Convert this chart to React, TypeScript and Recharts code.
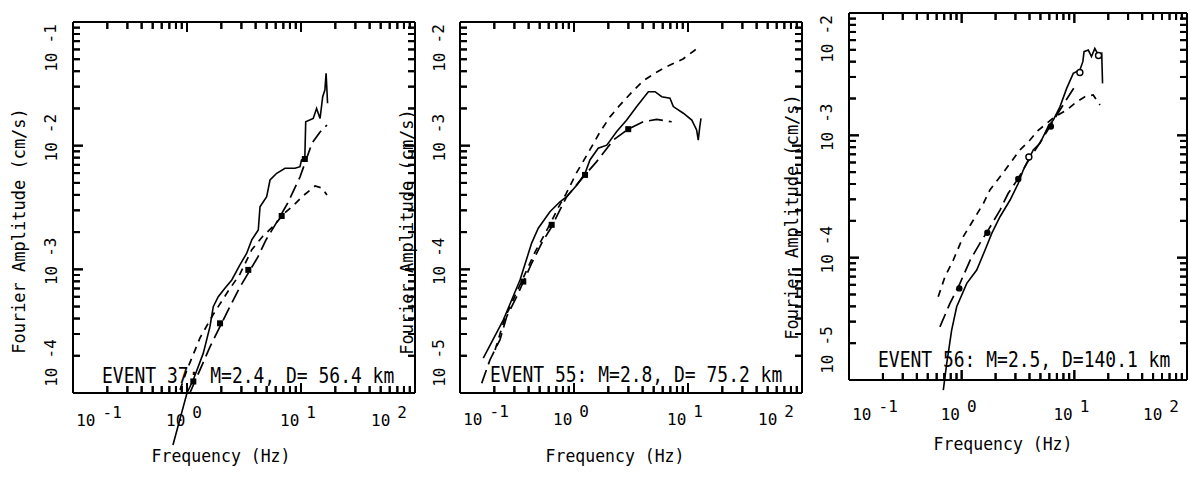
import React from 'react';
import { ComposedChart, Line, XAxis, YAxis, Scatter } from 'recharts';

// ---------- data (frequency Hz, Fourier amplitude cm/s) ----------
const xTicks = [0.1,0.2,0.3,0.4,0.5,0.6,0.7,0.8,0.9,1,2,3,4,5,6,7,8,9,10,20,30,40,50,60,70,80,90,100];
const yTicksA = [1e-4,2e-4,3e-4,4e-4,5e-4,6e-4,7e-4,8e-4,9e-4,1e-3,2e-3,3e-3,4e-3,5e-3,6e-3,7e-3,8e-3,9e-3,1e-2,2e-2,3e-2,4e-2,5e-2,6e-2,7e-2,8e-2,9e-2,1e-1];
const yTicksB = [1e-5,2e-5,3e-5,4e-5,5e-5,6e-5,7e-5,8e-5,9e-5,1e-4,2e-4,3e-4,4e-4,5e-4,6e-4,7e-4,8e-4,9e-4,1e-3,2e-3,3e-3,4e-3,5e-3,6e-3,7e-3,8e-3,9e-3,1e-2];

const ev37Solid = [
  {f:0.753,a:3.8e-5},{f:1.0,a:1.0e-4},{f:1.136,a:1.28e-4},{f:1.39,a:2.1e-4},{f:1.59,a:3.44e-4},
  {f:1.70,a:4.99e-4},{f:1.88,a:6.01e-4},{f:2.15,a:7.03e-4},{f:2.47,a:8.21e-4},{f:2.92,a:1.09e-3},
  {f:3.34,a:1.35e-3},{f:3.70,a:1.73e-3},{f:4.22,a:2.08e-3},{f:4.37,a:3.21e-3},{f:5.0,a:3.87e-3},
  {f:5.35,a:5.28e-3},{f:6.12,a:5.98e-3},{f:7.24,a:6.56e-3},{f:8.86,a:6.56e-3},{f:9.8,a:6.76e-3},
  {f:10.1,a:7.66e-3},{f:10.8,a:7.91e-3},{f:11.0,a:1.56e-2},{f:12.8,a:1.66e-2},{f:13.7,a:2.0e-2},
  {f:14.7,a:1.66e-2},{f:15.5,a:2.49e-2},{f:16.2,a:2.82e-2},{f:16.6,a:3.85e-2},{f:17.1,a:2.2e-2},
];
const ev37LongDash = [
  {f:1.06,a:1.0e-4},{f:1.30,a:1.54e-4},{f:1.59,a:2.36e-4},{f:2.30,a:4.7e-4},{f:2.92,a:7.21e-4},
  {f:4.19,a:1.26e-3},{f:4.93,a:1.73e-3},{f:6.15,a:2.42e-3},{f:7.65,a:3.44e-3},{f:9.8,a:5.58e-3},
  {f:12.5,a:1.05e-2},{f:14.7,a:1.29e-2},{f:16.9,a:1.47e-2},
];
const ev37ShortDash = [
  {f:0.869,a:1.06e-4},{f:1.0,a:1.54e-4},{f:1.30,a:2.79e-4},{f:1.69,a:4.28e-4},{f:2.24,a:6.44e-4},
  {f:2.92,a:9.18e-4},{f:3.70,a:1.44e-3},{f:4.64,a:1.86e-3},{f:5.89,a:2.29e-3},{f:7.05,a:2.81e-3},
  {f:8.5,a:3.26e-3},{f:10.4,a:3.92e-3},{f:13.3,a:4.72e-3},{f:15.3,a:4.55e-3},{f:16.9,a:3.99e-3},
];
const ev37Marks = [
  {f:1.136,a:1.24e-4},{f:1.95,a:3.66e-4},{f:3.45,a:9.9e-4},{f:6.77,a:2.7e-3},{f:10.8,a:7.8e-3},
];

const ev55Solid = [
  {f:0.160,a:1.91e-5},{f:0.240,a:3.9e-5},{f:0.336,a:8.2e-5},{f:0.425,a:1.63e-4},{f:0.486,a:2.15e-4},
  {f:0.615,a:2.92e-4},{f:0.753,a:3.52e-4},{f:0.863,a:3.87e-4},{f:1.06,a:4.81e-4},{f:1.25,a:5.98e-4},
  {f:1.38,a:7.66e-4},{f:1.63,a:9.53e-4},{f:1.94,a:1.01e-3},{f:2.37,a:1.3e-3},{f:2.90,a:1.61e-3},
  {f:3.55,a:2.07e-3},{f:4.49,a:2.73e-3},{f:5.14,a:2.73e-3},{f:5.88,a:2.49e-3},{f:6.95,a:2.42e-3},
  {f:7.43,a:2.07e-3},{f:9.10,a:1.83e-3},{f:10.8,a:1.61e-3},{f:11.9,a:1.34e-3},{f:12.3,a:1.11e-3},
  {f:12.7,a:1.43e-3},{f:13.0,a:1.66e-3},
];
const ev55LongDash = [
  {f:0.155,a:1.2e-5},{f:0.183,a:1.85e-5},{f:0.224,a:2.69e-5},{f:0.257,a:4.15e-5},{f:0.314,a:6.01e-5},
  {f:0.372,a:8.47e-5},{f:0.425,a:1.12e-4},{f:0.521,a:1.63e-4},{f:0.637,a:2.21e-4},{f:0.753,a:3.02e-4},
  {f:0.863,a:3.87e-4},{f:1.25,a:5.8e-4},{f:1.58,a:7.43e-4},{f:2.21,a:1.11e-3},{f:2.99,a:1.36e-3},
  {f:4.05,a:1.56e-3},{f:5.31,a:1.63e-3},{f:7.19,a:1.56e-3},
];
const ev55ShortDash = [
  {f:0.203,a:2.23e-5},{f:0.248,a:4.05e-5},{f:0.336,a:7.48e-5},{f:0.455,a:1.38e-4},{f:0.592,a:2.16e-4},
  {f:0.724,a:3.13e-4},{f:0.851,a:4.07e-4},{f:1.06,a:6.12e-4},{f:1.30,a:8.41e-4},{f:1.69,a:1.29e-3},
  {f:2.07,a:1.71e-3},{f:2.53,a:2.13e-3},{f:3.23,a:2.72e-3},{f:4.03,a:3.33e-3},{f:5.14,a:3.87e-3},
  {f:6.68,a:4.41e-3},{f:9.04,a:5.02e-3},{f:12.2,a:6.17e-3},
];
const ev55Marks = [
  {f:0.359,a:7.96e-5},{f:0.637,a:2.29e-4},{f:1.25,a:5.8e-4},{f:2.99,a:1.36e-3},
];

const ev56Solid = [
  {f:0.687,a:8.26e-6},{f:0.737,a:1.37e-5},{f:0.815,a:2.56e-5},{f:0.903,a:3.97e-5},{f:1.11,a:6.17e-5},
  {f:1.36,a:7.92e-5},{f:1.61,a:1.15e-4},{f:1.85,a:1.58e-4},{f:2.19,a:2.16e-4},{f:2.69,a:2.96e-4},
  {f:3.18,a:4.05e-4},{f:3.52,a:5.2e-4},{f:3.90,a:6.28e-4},{f:4.32,a:7.59e-4},{f:4.95,a:8.61e-4},
  {f:5.86,a:1.18e-3},{f:6.50,a:1.33e-3},{f:7.45,a:1.71e-3},{f:8.55,a:2.42e-3},{f:9.78,a:3.21e-3},
  {f:11.2,a:3.42e-3},{f:11.9,a:4.0e-3},{f:12.2,a:4.83e-3},{f:13.3,a:4.98e-3},{f:14.2,a:4.4e-3},
  {f:15.2,a:5.14e-3},{f:16.3,a:4.54e-3},{f:17.5,a:4.68e-3},{f:17.8,a:2.66e-3},
];
const ev56LongDash = [
  {f:0.641,a:2.72e-5},{f:0.787,a:4.23e-5},{f:0.966,a:6.17e-5},{f:1.19,a:9.55e-5},{f:1.45,a:1.31e-4},
  {f:1.72,a:1.68e-4},{f:2.19,a:2.45e-4},{f:2.59,a:3.36e-4},{f:3.18,a:4.45e-4},{f:3.78,a:5.9e-4},
  {f:5.13,a:9.16e-4},{f:6.07,a:1.18e-3},{f:7.45,a:1.61e-3},{f:8.83,a:2.07e-3},{f:10.1,a:2.5e-3},
];
const ev56ShortDash = [
  {f:0.619,a:4.79e-5},{f:0.711,a:6.98e-5},{f:0.842,a:9.55e-5},{f:1.03,a:1.48e-4},{f:1.27,a:2.03e-4},
  {f:1.56,a:2.78e-4},{f:1.78,a:3.57e-4},{f:2.19,a:4.58e-4},{f:2.69,a:5.9e-4},{f:3.29,a:7.59e-4},
  {f:4.04,a:9.16e-4},{f:4.78,a:1.1e-3},{f:5.68,a:1.25e-3},{f:6.73,a:1.42e-3},{f:8.55,a:1.61e-3},
  {f:10.5,a:1.88e-3},{f:12.4,a:2.07e-3},{f:14.7,a:2.14e-3},{f:16.9,a:1.77e-3},
];
const ev56Marks = [
  {f:0.953,a:5.61e-5},{f:1.69,a:1.6e-4},{f:3.18,a:4.4e-4},{f:6.19,a:1.18e-3},
];
const ev56OpenMarks = [
  {f:3.95,a:6.65e-4},{f:11.2,a:3.26e-3},{f:16.4,a:4.49e-3},
];

const eventLabels = [
  'EVENT 37: M=2.4, D= 56.4 km',
  'EVENT 55: M=2.8, D= 75.2 km',
  'EVENT 56: M=2.5, D=140.1 km',
];
const yTitle = 'Fourier Amplitude (cm/s)';
const xTitle = 'Frequency (Hz)';
const X_DOMAIN: [number, number] = [0.1, 100];

// ---------- layout ----------
const FONT = "'DejaVu Sans Mono', 'Liberation Mono', monospace";
const YW = 70;
const XH = 60;
const MT = 10;
const MR = 3;

const panels = [
  { left: 73, top: 22, pw: 342, ph: 371, yDomain: [1e-4, 1e-1] as [number, number], yTicks: yTicksA,
    xLabelDy: 33, yLabelDx: 16,
    solid: ev37Solid, longDash: ev37LongDash, shortDash: ev37ShortDash, marks: ev37Marks, open: [] as any[],
    event: eventLabels[0], eventX: 102, eventY: 383, titleX: 25, titleY: 231, freqX: 221, freqY: 462 },
  { left: 460, top: 22, pw: 342, ph: 371, yDomain: [1e-5, 1e-2] as [number, number], yTicks: yTicksB,
    xLabelDy: 32, yLabelDx: 15,
    solid: ev55Solid, longDash: ev55LongDash, shortDash: ev55ShortDash, marks: ev55Marks, open: [] as any[],
    event: eventLabels[1], eventX: 490, eventY: 382, titleX: 413, titleY: 232, freqX: 615, freqY: 462 },
  { left: 849, top: 13, pw: 338, ph: 367, yDomain: [1e-5, 1e-2] as [number, number], yTicks: yTicksB,
    xLabelDy: 40, yLabelDx: 16,
    solid: ev56Solid, longDash: ev56LongDash, shortDash: ev56ShortDash, marks: ev56Marks, open: ev56OpenMarks,
    event: eventLabels[2], eventX: 878, eventY: 367, titleX: 798, titleY: 217, freqX: 1003, freqY: 450 },
];

const isDecade = (v: number) => {
  const l = Math.log10(v);
  return Math.abs(l - Math.round(l)) < 1e-6;
};
const near = (a: number, b: number) => Math.abs(Math.log10(a) - Math.log10(b)) < 1e-6;

function makeXTick(p: any) {
  return (props: any) => {
    const x = Number(props.x);
    const y = Number(props.y);
    const v = props.payload.value;
    if (!isDecade(v)) return <g />;
    const e = Math.round(Math.log10(v));
    const shift = near(v, X_DOMAIN[0]) ? 26 : near(v, X_DOMAIN[1]) ? -26 : -3;
    return (
      <text x={x + shift} y={y + p.xLabelDy} textAnchor="middle" fontFamily={FONT} fontSize={16} fill="#000" stroke="none">
        10<tspan dx={7} dy={-8}>{String(e)}</tspan>
      </text>
    );
  };
}

function makeYTick(p: any) {
  return (props: any) => {
    const x = Number(props.x);
    const y = Number(props.y);
    const v = props.payload.value;
    if (!isDecade(v)) return <g />;
    const e = Math.round(Math.log10(v));
    const shift = near(v, p.yDomain[1]) ? 26 : near(v, p.yDomain[0]) ? -30 : -8;
    return (
      <text transform={`translate(${x - p.yLabelDx},${y + shift}) rotate(-90)`} textAnchor="middle"
        fontFamily={FONT} fontSize={16} fill="#000" stroke="none">
        10<tspan dx={9} dy={-1}>{String(e)}</tspan>
      </text>
    );
  };
}

// frame tick marks, placed through the chart scales on the axis edges
const tickMark = (dx: number, dy: number) => (props: any) => {
  const { cx, cy, payload } = props;
  if (cx == null || cy == null) return <g />;
  const len = payload && payload.major ? 10 : 7;
  return (
    <g>
      <line x1={cx} y1={cy} x2={cx + dx * len} y2={cy + dy * len} stroke="#000" strokeWidth={2} />
    </g>
  );
};
const bottomTickShape = tickMark(0, -1);
const topTickShape = tickMark(0, 1);
const leftTickShape = tickMark(1, 0);
const rightTickShape = tickMark(-1, 0);

const squareShape = (props: any) => {
  const { cx, cy } = props;
  if (cx == null || cy == null) return <g />;
  return <rect x={cx - 3} y={cy - 3} width={6} height={6} fill="#000" />;
};
const dotShape = (props: any) => {
  const { cx, cy } = props;
  if (cx == null || cy == null) return <g />;
  return <circle cx={cx} cy={cy} r={3.2} fill="#000" />;
};
const openShape = (props: any) => {
  const { cx, cy } = props;
  if (cx == null || cy == null) return <g />;
  return <circle cx={cx} cy={cy} r={3} fill="#fff" stroke="#000" strokeWidth={1.4} />;
};

const frameStyle = { stroke: '#000', strokeWidth: 2 };

// Frame tick marks for the overlay, derived from the same tick lists and log-axis geometry
function frameTicks(p: any) {
  const lx0 = Math.log10(X_DOMAIN[0]);
  const lx1 = Math.log10(X_DOMAIN[1]);
  const ly0 = Math.log10(p.yDomain[0]);
  const ly1 = Math.log10(p.yDomain[1]);
  const out: any[] = [];
  xTicks.forEach((f, i) => {
    const x = p.left + (p.pw * (Math.log10(f) - lx0)) / (lx1 - lx0);
    const len = isDecade(f) ? 10 : 7;
    const bottom = p.top + p.ph;
    out.push(<line key={`xb${i}`} x1={x} y1={bottom} x2={x} y2={bottom - len} />);
    out.push(<line key={`xt${i}`} x1={x} y1={p.top} x2={x} y2={p.top + len} />);
  });
  p.yTicks.forEach((a: number, i: number) => {
    const y = p.top + (p.ph * (ly1 - Math.log10(a))) / (ly1 - ly0);
    const len = isDecade(a) ? 10 : 7;
    const right = p.left + p.pw;
    out.push(<line key={`yl${i}`} x1={p.left} y1={y} x2={p.left + len} y2={y} />);
    out.push(<line key={`yr${i}`} x1={right} y1={y} x2={right - len} y2={y} />);
  });
  return out;
}

function Panel({ p, idx }: { p: any; idx: number }) {
  const w = YW + p.pw + MR;
  const h = MT + p.ph + XH;
  const bottomTicks = xTicks.map((f) => ({ f, a: p.yDomain[0], major: isDecade(f) }));
  const topTicks = xTicks.map((f) => ({ f, a: p.yDomain[1], major: isDecade(f) }));
  const leftTicks = p.yTicks.map((a: number) => ({ f: X_DOMAIN[0], a, major: isDecade(a) }));
  const rightTicks = p.yTicks.map((a: number) => ({ f: X_DOMAIN[1], a, major: isDecade(a) }));
  return (
    <div style={{ position: 'absolute', left: p.left - YW, top: p.top - MT }}>
      <ComposedChart width={w} height={h} margin={{ top: MT - 1, right: MR - 1, bottom: 0, left: 0 }}>
        <XAxis xAxisId="b" dataKey="f" type="number" scale="log" domain={X_DOMAIN} allowDataOverflow ticks={xTicks}
          interval={0} tick={makeXTick(p)} tickLine={false} axisLine={frameStyle}
          tickSize={-7} tickMargin={7} height={XH} />
        <XAxis xAxisId="t" orientation="top" dataKey="f" type="number" scale="log" domain={X_DOMAIN} allowDataOverflow
          ticks={xTicks} interval={0} tick={false} tickLine={false} axisLine={frameStyle} height={1} />
        <YAxis yAxisId="l" dataKey="a" type="number" scale="log" domain={p.yDomain} allowDataOverflow ticks={p.yTicks}
          interval={0} tick={makeYTick(p)} tickLine={false} axisLine={frameStyle}
          tickSize={-7} tickMargin={7} width={YW} />
        <YAxis yAxisId="r" orientation="right" dataKey="a" type="number" scale="log" domain={p.yDomain} allowDataOverflow
          ticks={p.yTicks} interval={0} tick={false} tickLine={false} axisLine={frameStyle} width={1} />
        <Scatter xAxisId="b" yAxisId="l" data={bottomTicks} dataKey="a" shape={bottomTickShape} isAnimationActive={false} />
        <Scatter xAxisId="b" yAxisId="l" data={topTicks} dataKey="a" shape={topTickShape} isAnimationActive={false} />
        <Scatter xAxisId="b" yAxisId="l" data={leftTicks} dataKey="a" shape={leftTickShape} isAnimationActive={false} />
        <Scatter xAxisId="b" yAxisId="l" data={rightTicks} dataKey="a" shape={rightTickShape} isAnimationActive={false} />
        <Line xAxisId="b" yAxisId="l" data={p.shortDash} dataKey="a" type="linear" stroke="#000" strokeWidth={1.7}
          strokeDasharray="7 6" dot={false} isAnimationActive={false} />
        <Line xAxisId="b" yAxisId="l" data={p.longDash} dataKey="a" type="linear" stroke="#000" strokeWidth={1.7}
          strokeDasharray="14 6" dot={false} isAnimationActive={false} />
        <Line xAxisId="b" yAxisId="l" data={p.solid} dataKey="a" type="linear" stroke="#000" strokeWidth={1.6}
          dot={false} isAnimationActive={false} />
        <Scatter xAxisId="b" yAxisId="l" data={p.marks} dataKey="a" shape={idx === 2 ? dotShape : squareShape} isAnimationActive={false} />
        {p.open.length > 0 && (
          <Scatter xAxisId="b" yAxisId="l" data={p.open} dataKey="a" shape={openShape} isAnimationActive={false} />
        )}
      </ComposedChart>
    </div>
  );
}

export default function App() {
  return (
    <div style={{ position: 'fixed', left: 0, top: 0, width: 1190, height: 478, background: '#fff' }}>
      <style>{`.recharts-surface g, .recharts-surface path { clip-path: none !important; }`}</style>
      {panels.map((p, i) => <Panel key={i} p={p} idx={i} />)}
      <svg width={1190} height={478} style={{ position: 'absolute', left: 0, top: 0, pointerEvents: 'none' }}>
        {panels.map((p, i) => (
          <g key={i}>
            <g stroke="#000" strokeWidth={2}>{frameTicks(p)}</g>
            <g fontFamily={FONT} fill="#000">
              <text transform={`translate(${p.eventX},${p.eventY}) scale(1,1.15)`} fontSize={18}>{p.event}</text>
              <text transform={`translate(${p.titleX},${p.titleY}) rotate(-90)`} textAnchor="middle" fontSize={17}>{yTitle}</text>
              <text transform={`translate(${p.freqX},${p.freqY}) scale(1,1.12)`} textAnchor="middle" fontSize={16.5}>{xTitle}</text>
            </g>
          </g>
        ))}
      </svg>
    </div>
  );
}
